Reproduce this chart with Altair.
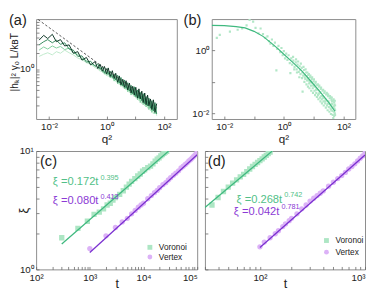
import altair as alt
import pandas as pd

FONT = "Liberation Sans"
TXT = "#222222"
GREEN_PT = "#ade6c4"
GREEN_LN = "#3fb97f"
GREEN_TX = "#52bf88"
PURP_PT = "#dcb2f7"
PURP_LN = "#7a2fd0"
PURP_TX = "#8b3ad5"

# ---------------- panel (a): spectra ----------------
a_q2 = [0.0045, 0.0065, 0.009, 0.013, 0.018, 0.025, 0.035, 0.05, 0.07, 0.1,
        0.14, 0.2, 0.28, 0.4, 0.5, 0.6, 0.72, 0.85, 1.0, 1.15,
        1.35, 1.6, 1.85, 2.1, 2.45, 2.8, 3.2, 3.7, 4.2, 4.8,
        5.5, 6.3, 7.2, 8.2, 9.3, 10.5, 12, 13.5, 15, 17,
        19, 21.5, 24, 27, 30, 34, 38, 43, 49, 56]
a_run1 = [1.74, 1.91, 2.04, 1.86, 2.14, 2.00, 2.29, 2.04, 1.86, 1.62,
          1.51, 1.32, 1.23, 1.07, 1.00, 0.91, 0.95, 0.79, 0.87, 0.72,
          0.81, 0.65, 0.74, 0.58, 0.68, 0.50, 0.60, 0.45, 0.55, 0.40,
          0.49, 0.35, 0.44, 0.32, 0.40, 0.28, 0.35, 0.25, 0.32, 0.22,
          0.29, 0.20, 0.26, 0.18, 0.24, 0.16, 0.21, 0.14, 0.19, 0.13]
a_run2 = [2.29, 2.63, 2.40, 2.75, 2.51, 2.69, 2.34, 2.51, 2.00, 1.91,
          1.58, 1.45, 1.26, 1.17, 1.05, 1.07, 0.87, 0.93, 0.76, 0.89,
          0.68, 0.79, 0.59, 0.72, 0.52, 0.65, 0.47, 0.59, 0.42, 0.51,
          0.37, 0.47, 0.32, 0.42, 0.30, 0.38, 0.26, 0.35, 0.23, 0.31,
          0.21, 0.28, 0.19, 0.25, 0.17, 0.23, 0.15, 0.21, 0.14, 0.19]
a_run3 = [2.88, 3.31, 3.63, 3.16, 3.55, 2.95, 3.16, 2.40, 2.29, 1.74,
          1.78, 1.35, 1.41, 1.12, 1.26, 0.98, 1.10, 0.83, 1.02, 0.79,
          0.91, 0.69, 0.81, 0.62, 0.76, 0.54, 0.69, 0.48, 0.62, 0.43,
          0.55, 0.38, 0.49, 0.34, 0.46, 0.30, 0.40, 0.28, 0.36, 0.25,
          0.34, 0.22, 0.30, 0.20, 0.28, 0.18, 0.25, 0.16, 0.23, 0.14]
a_run4 = [3.55, 4.37, 3.80, 4.57, 3.31, 3.63, 2.75, 2.88, 2.00, 2.14,
          1.48, 1.66, 1.20, 1.38, 1.02, 1.23, 0.91, 1.12, 0.81, 1.05,
          0.72, 0.93, 0.66, 0.83, 0.56, 0.74, 0.50, 0.64, 0.45, 0.60,
          0.40, 0.54, 0.35, 0.47, 0.32, 0.45, 0.28, 0.42, 0.27, 0.38,
          0.23, 0.35, 0.21, 0.32, 0.20, 0.27, 0.17, 0.26, 0.15, 0.22]
a_runs = [a_run1, a_run2, a_run3, a_run4]
a_colors = ["#bfe9cb", "#80d09e", "#348a5d", "#0c3625"]
a_guide_q2 = [0.0042, 9.5]
a_guide_h = [8.7, 0.40]

# ---------------- panel (b): scatter + fit ----------------
b_fit_q2 = [0.0038, 0.01, 0.025, 0.05, 0.1, 0.2, 0.4, 0.63, 1.0, 2.0, 4.0, 8.0, 16, 32, 52]
b_fit_s = [6.3, 6.2, 5.75, 5.25, 4.07, 2.82, 1.66, 1.15, 0.76, 0.42, 0.224, 0.107, 0.050, 0.0224, 0.0117]
b_scatter_log = [
    (-2.25, 0.40), (-2.15, 0.50), (-1.81, 0.60), (-1.55, 0.66), (-1.40, 0.70), (-1.25, 0.80),
    (-1.15, 0.97), (-1.03, 0.92), (-0.95, 0.72), (-0.85, 0.55), (-0.78, 0.70), (-0.70, 0.52),
    (-0.62, 0.40), (-0.55, 0.45), (-0.50, 0.30), (-0.45, 0.22), (-0.40, 0.35), (-0.35, 0.15),
    (-0.30, 0.25), (-0.25, -0.63), (-0.22, 0.05), (-0.18, 0.15), (-0.12, -0.05), (-0.08, 0.08),
    (-0.04, -0.15), (0.00, -0.02), (0.04, -0.25), (0.08, -0.10), (0.12, -0.30), (0.16, -0.15),
    (0.20, -0.40), (0.22, -0.72), (0.25, -0.25), (0.28, -0.45), (0.32, -0.32), (0.36, -0.52),
    (0.40, -0.38), (0.43, -0.60), (0.46, -0.45), (0.50, -0.68), (0.53, -0.50), (0.56, -0.75),
    (0.60, -0.55), (0.63, -1.31), (0.65, -0.80), (0.68, -0.62), (0.72, -0.90), (0.75, -0.70),
    (0.78, -0.95), (0.82, -0.78), (0.85, -1.05), (0.88, -0.85), (0.91, -1.12), (0.94, -0.90),
    (0.97, -1.20), (1.00, -0.98), (1.03, -1.28), (1.06, -1.05), (1.09, -1.35), (1.12, -1.10),
    (1.15, -1.42), (1.18, -1.15), (1.21, -1.50), (1.24, -1.22), (1.27, -1.55), (1.30, -1.28),
    (1.33, -1.62), (1.36, -1.35), (1.39, -1.68), (1.42, -1.40), (1.45, -1.75), (1.48, -1.45),
    (1.51, -1.80), (1.54, -1.52), (1.57, -1.85), (1.60, -1.58), (1.63, -1.92), (1.66, -2.15),
    (1.69, -1.65), (1.71, -2.00), (1.72, -1.75), (1.70, -1.85), (1.60, -1.78), (1.50, -1.62),
    (1.40, -1.55), (1.30, -1.45), (1.20, -1.32), (1.10, -1.22), (1.00, -1.10), (0.90, -0.98),
    (0.80, -0.88), (0.70, -0.78), (0.55, -0.62), (0.62, -0.70), (0.70, -0.85), (0.77, -0.82),
    (0.83, -0.95), (0.87, -1.00), (0.93, -1.02), (0.99, -1.12), (1.04, -1.15), (1.08, -1.25),
    (1.13, -1.25), (1.17, -1.38), (1.22, -1.35), (1.26, -1.45), (1.31, -1.52), (1.35, -1.50),
    (1.38, -1.62), (1.43, -1.60), (1.47, -1.70), (1.52, -1.68), (1.56, -1.72), (1.59, -1.88),
    (1.62, -1.70), (1.65, -1.82), (1.68, -1.95), (1.70, -1.72), (1.72, -1.90), (1.67, -1.55),
    (1.58, -1.50), (1.46, -1.38),
    (0.31, -0.20), (0.35, -0.60), (0.41, -0.28), (0.44, -0.70), (0.48, -0.35), (0.52, -0.85),
    (0.57, -0.42), (0.61, -0.88), (0.66, -0.52), (0.69, -1.00), (0.73, -0.60), (0.76, -1.08),
    (0.79, -0.70), (0.81, -1.15), (0.84, -0.75), (0.86, -1.20), (0.89, -0.80), (0.92, -1.28),
    (0.95, -0.85), (0.98, -1.35), (1.01, -0.92), (1.05, -1.42), (1.07, -1.00), (1.11, -1.48),
    (1.14, -1.08), (1.16, -1.55), (1.19, -1.12), (1.23, -1.62), (1.25, -1.18), (1.28, -1.68),
    (1.32, -1.25), (1.34, -1.75), (1.37, -1.30), (1.41, -1.82), (1.44, -1.35), (1.47, -1.90),
    (1.49, -1.40), (1.53, -1.95), (1.55, -1.45), (1.58, -2.02), (1.61, -1.50), (1.64, -2.05),
    (1.66, -1.60), (1.69, -2.08), (1.71, -1.60), (1.72, -2.05), (1.68, -1.78), (1.62, -1.62),
]

# ---------------- panel (c) ----------------
c_vor_t = [300, 600, 900, 1200, 1500, 1800, 2100, 2400, 2700, 3000,
           3600, 4200, 4800, 5400, 6000, 6900, 7800, 8700, 9600, 10500,
           12000, 13500, 15000, 16500, 18000, 19500, 21000, 22500, 24000, 25500, 27000]
c_vor_xi = [1.85, 2.22, 2.55, 2.92, 3.05, 3.25, 3.50, 3.62, 3.85, 4.05,
            4.30, 4.62, 4.95, 5.25, 5.55, 5.85, 6.15, 6.40, 6.75, 6.95,
            7.25, 7.45, 7.80, 8.20, 8.55, 8.75, 9.10, 9.35, 9.55, 9.80, 9.95]
c_ver_t = [1000, 2000, 3000, 4000, 5000, 6000, 7000, 8000, 9000, 10000,
           12000, 14000, 16000, 18000, 20000, 23000, 26000, 29000, 32000, 36000,
           40000, 45000, 50000, 55000, 60000, 65000, 70000, 75000, 80000, 85000,
           90000, 95000, 100000]
c_ver_xi = [1.50, 1.92, 2.26, 2.52, 2.70, 2.95, 3.15, 3.35, 3.50, 3.62,
            3.95, 4.20, 4.45, 4.65, 4.90, 5.20, 5.40, 5.70, 5.95, 6.25,
            6.50, 6.80, 7.20, 7.45, 7.70, 7.95, 8.25, 8.45, 8.70, 8.95,
            9.20, 9.45, 9.70]
c_vor_fit_t = [300, 29400]
c_vor_fit_xi = [1.64, 10.0]
c_ver_fit_t = [1000, 100000]
c_ver_fit_xi = [1.39, 9.31]
c_eq_t = [205, 205]
c_eq_xi = [5.42, 3.74]
c_eq_text = ["ξ =0.172t", "ξ =0.080t"]
c_eq_pow = ["0.395", "0.413"]

# ---------------- panel (d) ----------------
d_vor_t = [35, 40, 45, 50, 55, 60, 65, 70, 75, 80, 85, 90, 95, 100, 105, 110, 115, 120, 125]
d_vor_xi = [3.50, 4.05, 4.55, 4.95, 5.35, 5.70, 6.05, 6.35, 6.70, 7.05,
            7.40, 7.70, 8.00, 8.30, 8.60, 8.90, 9.20, 9.50, 9.80]
d_ver_t = [100, 110, 125, 140, 150, 165, 175, 190, 200, 225,
           250, 275, 300, 325, 350, 375, 400, 450, 500, 550,
           600, 650, 700, 750, 800, 850, 900, 950, 1000]
d_ver_xi = [1.55, 1.70, 1.85, 2.00, 2.12, 2.30, 2.42, 2.58, 2.70, 2.95,
            3.25, 3.50, 3.78, 4.00, 4.20, 4.40, 4.60, 5.05, 5.45, 5.85,
            6.20, 6.60, 7.05, 7.40, 7.80, 8.25, 8.70, 9.10, 9.60]
d_vor_fit_t = [30, 131]
d_vor_fit_xi = [3.34, 10.0]
d_ver_fit_t = [100, 1000]
d_ver_fit_xi = [1.53, 9.25]
d_eq_t = [60, 56.5]
d_eq_xi = [3.88, 3.05]
d_eq_text = ["ξ =0.268t", "ξ =0.042t"]
d_eq_pow = ["0.742", "0.781"]

models = ["Voronoi", "Vertex"]


def lab_expr(pairs):
    s = ""
    for v, t in pairs:
        s += f"datum.value == {v!r} ? '{t}' : "
    return s + "''"


def log_axis(values, pairs, **kw):
    opts = dict(values=values, labelExpr=lab_expr(pairs), tickSize=3, offset=-3,
                domain=False, grid=False, labelPadding=3, labelOverlap=False,
                labelFlush=False, tickColor="#666666", tickWidth=0.8, title="")
    opts.update(kw)
    return alt.Axis(**opts)


def panel_label(txt, x, y):
    return alt.Chart(pd.DataFrame({"p": [txt]})).mark_text(
        align="left", baseline="top", fontSize=15, font=FONT, color=TXT
    ).encode(x=alt.value(x), y=alt.value(y), text="p:N")


# ---------- (a) ----------
qdec = [0.01, 0.1, 1, 10, 100]
qlabels = [(0.01, "10⁻²"), (1, "10⁰"), (100, "10²")]
xa = alt.X("q2:Q", scale=alt.Scale(type="log", domain=[10 ** -2.45, 10 ** 2.45], nice=False),
           axis=log_axis(qdec, qlabels, title="q²", titlePadding=2))
a_yvals = [round(m * 0.1, 1) for m in range(2, 10)] + list(range(1, 9))
ya = alt.Y("h:Q", scale=alt.Scale(type="log", domain=[10 ** -0.95, 10 ** 0.95], nice=False),
           axis=log_axis(a_yvals, [(1, "10⁰")], title="|hₖ|² γ₀ L/kʙT",
                         titleX=-25, titleY=44, titleBaseline="middle", titleFontSize=10.5))
a_layers = []
for run, col in zip(a_runs, a_colors):
    a_layers.append(
        alt.Chart(pd.DataFrame({"q2": a_q2, "h": run}))
        .mark_line(color=col, strokeWidth=1, clip=True)
        .encode(x=xa, y=ya)
    )
a_guide = alt.Chart(pd.DataFrame({"q2": a_guide_q2, "h": a_guide_h})).mark_line(
    color="#444444", strokeDash=[2.5, 2], strokeWidth=0.9).encode(x=xa, y=ya)
panel_a = alt.layer(*a_layers, a_guide, panel_label("(a)", -28, -6)).properties(width=145, height=103)

# ---------- (b) ----------
xb = alt.X("q2:Q", scale=alt.Scale(type="log", domain=[10 ** -2.42, 10 ** 2.4], nice=False),
           axis=log_axis(qdec, qlabels, title="q²", titlePadding=2))
yb = alt.Y("s:Q", scale=alt.Scale(type="log", domain=[10 ** -2.18, 10 ** 1.0], nice=False),
           axis=log_axis([0.01, 0.1, 1], [(0.01, "10⁻²"), (1, "10⁰")]))
b_df = pd.DataFrame(b_scatter_log, columns=["lq", "ls"])
b_df["q2"] = 10 ** b_df["lq"]
b_df["s"] = 10 ** b_df["ls"]
b_pts = alt.Chart(b_df).mark_square(size=5, color="#b2e7c7", opacity=1, clip=True).encode(x=xb, y=yb)
b_fit = alt.Chart(pd.DataFrame({"q2": b_fit_q2, "s": b_fit_s})).mark_line(
    color=GREEN_LN, strokeWidth=1.2, clip=True).encode(x=xb, y=yb)
panel_b = alt.layer(b_pts, b_fit, panel_label("(b)", -29, -6)).properties(width=148, height=103)


# ---------- helpers for (c), (d) ----------
def model_df(t1, x1, t2, x2):
    return pd.DataFrame({
        "t": list(t1) + list(t2),
        "xi": list(x1) + list(x2),
        "model": ["Voronoi"] * len(t1) + ["Vertex"] * len(t2),
    })


def eq_layers(ts, xis, texts, pows, colors, xenc, yenc):
    out = []
    for t, xi, tx, pw, col in zip(ts, xis, texts, pows, colors):
        base = alt.Chart(pd.DataFrame({"t": [t], "xi": [xi], "txt": [tx], "pw": [pw]}))
        out.append(base.mark_text(align="left", baseline="middle", fontSize=11.5, font=FONT,
                                  color=col).encode(x=xenc, y=yenc, text="txt:N"))
        out.append(base.mark_text(align="left", baseline="middle", fontSize=7.5, font=FONT,
                                  color=col, dx=49, dy=-5).encode(x=xenc, y=yenc, text="pw:N"))
    return out


def legend(lx, ly, rowpad):
    return alt.Legend(title="", orient="none", legendX=lx, legendY=ly, symbolSize=25,
                      labelFontSize=8.5, labelFont=FONT, labelColor=TXT, rowPadding=rowpad,
                      labelOffset=5, symbolStrokeWidth=0, symbolOpacity=1, padding=0)


xi_vals = list(range(1, 11))

# ---------- (c) ----------
c_tvals = [m * 10 ** e for e in range(2, 5) for m in range(1, 10)] + [100000]
xc = alt.X("t:Q", scale=alt.Scale(type="log", domain=[100, 100000], nice=False),
           axis=log_axis(c_tvals, [(100, "10²"), (1000, "10³"), (10000, "10⁴"), (100000, "10⁵")],
                         title="t", titleFontSize=13, titleY=22, titleBaseline="alphabetic",
                         labelAlign={"condition": {"test": "datum.value >= 100000", "value": "right"},
                                     "value": "center"}))
yc = alt.Y("xi:Q", scale=alt.Scale(type="log", domain=[1, 10], nice=False),
           axis=log_axis(xi_vals, [(1, "10⁰"), (10, "10¹")], title="ξ", titleFontSize=13,
                         titleX=-16, titleBaseline="middle"))
leg_c = legend(113, 95, 1)
c_pts = alt.Chart(model_df(c_vor_t, c_vor_xi, c_ver_t, c_ver_xi)).mark_point(
    filled=True, size=30, opacity=1, clip=True).encode(
    x=xc, y=yc,
    color=alt.Color("model:N", scale=alt.Scale(domain=models, range=[GREEN_PT, PURP_PT]), legend=leg_c),
    shape=alt.Shape("model:N", scale=alt.Scale(domain=models, range=["square", "circle"]), legend=leg_c),
)
c_fit1 = alt.Chart(pd.DataFrame({"t": c_vor_fit_t, "xi": c_vor_fit_xi})).mark_line(
    color=GREEN_LN, strokeWidth=1.3, clip=True).encode(x=xc, y=yc)
c_fit2 = alt.Chart(pd.DataFrame({"t": c_ver_fit_t, "xi": c_ver_fit_xi})).mark_line(
    color=PURP_LN, strokeWidth=1.3, clip=True).encode(x=xc, y=yc)
panel_c = alt.layer(
    c_pts, c_fit1, c_fit2,
    *eq_layers(c_eq_t, c_eq_xi, c_eq_text, c_eq_pow, [GREEN_TX, PURP_TX], xc, yc),
    panel_label("(c)", 4, 3),
).properties(width=166, height=122)

# ---------- (d) ----------
d_tvals = list(range(30, 100, 10)) + list(range(100, 1000, 100)) + [1000]
xd = alt.X("t:Q", scale=alt.Scale(type="log", domain=[30, 1000], nice=False),
           axis=log_axis(d_tvals, [(100, "10²"), (1000, "10³")],
                         title="t", titleFontSize=13, titleY=22, titleBaseline="alphabetic",
                         labelAlign={"condition": {"test": "datum.value >= 1000", "value": "right"},
                                     "value": "center"}))
yd = alt.Y("xi:Q", scale=alt.Scale(type="log", domain=[1, 10], nice=False),
           axis=log_axis(xi_vals, [], labels=False))
leg_d = legend(121, 88, 3)
d_pts = alt.Chart(model_df(d_vor_t, d_vor_xi, d_ver_t, d_ver_xi)).mark_point(
    filled=True, size=30, opacity=1, clip=True).encode(
    x=xd, y=yd,
    color=alt.Color("model:N", scale=alt.Scale(domain=models, range=[GREEN_PT, PURP_PT]), legend=leg_d),
    shape=alt.Shape("model:N", scale=alt.Scale(domain=models, range=["square", "circle"]), legend=leg_d),
)
d_fit1 = alt.Chart(pd.DataFrame({"t": d_vor_fit_t, "xi": d_vor_fit_xi})).mark_line(
    color=GREEN_LN, strokeWidth=1.3, clip=True).encode(x=xd, y=yd)
d_fit2 = alt.Chart(pd.DataFrame({"t": d_ver_fit_t, "xi": d_ver_fit_xi})).mark_line(
    color=PURP_LN, strokeWidth=1.3, clip=True).encode(x=xd, y=yd)
panel_d = alt.layer(
    d_pts, d_fit1, d_fit2,
    *eq_layers(d_eq_t, d_eq_xi, d_eq_text, d_eq_pow, [GREEN_TX, PURP_TX], xd, yd),
    panel_label("(d)", 3, 3),
).properties(width=165, height=122)

top = alt.hconcat(panel_a, panel_b, spacing=5)
bottom = alt.hconcat(panel_c, panel_d, spacing=6).resolve_scale(color="independent", shape="independent")

chart = (
    alt.vconcat(top, bottom, spacing=0)
    .properties(padding=0)
    .configure_view(stroke="#8a8a8a", strokeWidth=1)
    .configure_axis(labelFont=FONT, titleFont=FONT, labelFontSize=10, titleFontSize=12,
                    labelColor=TXT, titleColor=TXT, titleFontWeight="normal")
    .configure_text(font=FONT)
)

chart.save("out.html", embed_options={"renderer": "svg", "actions": False})
